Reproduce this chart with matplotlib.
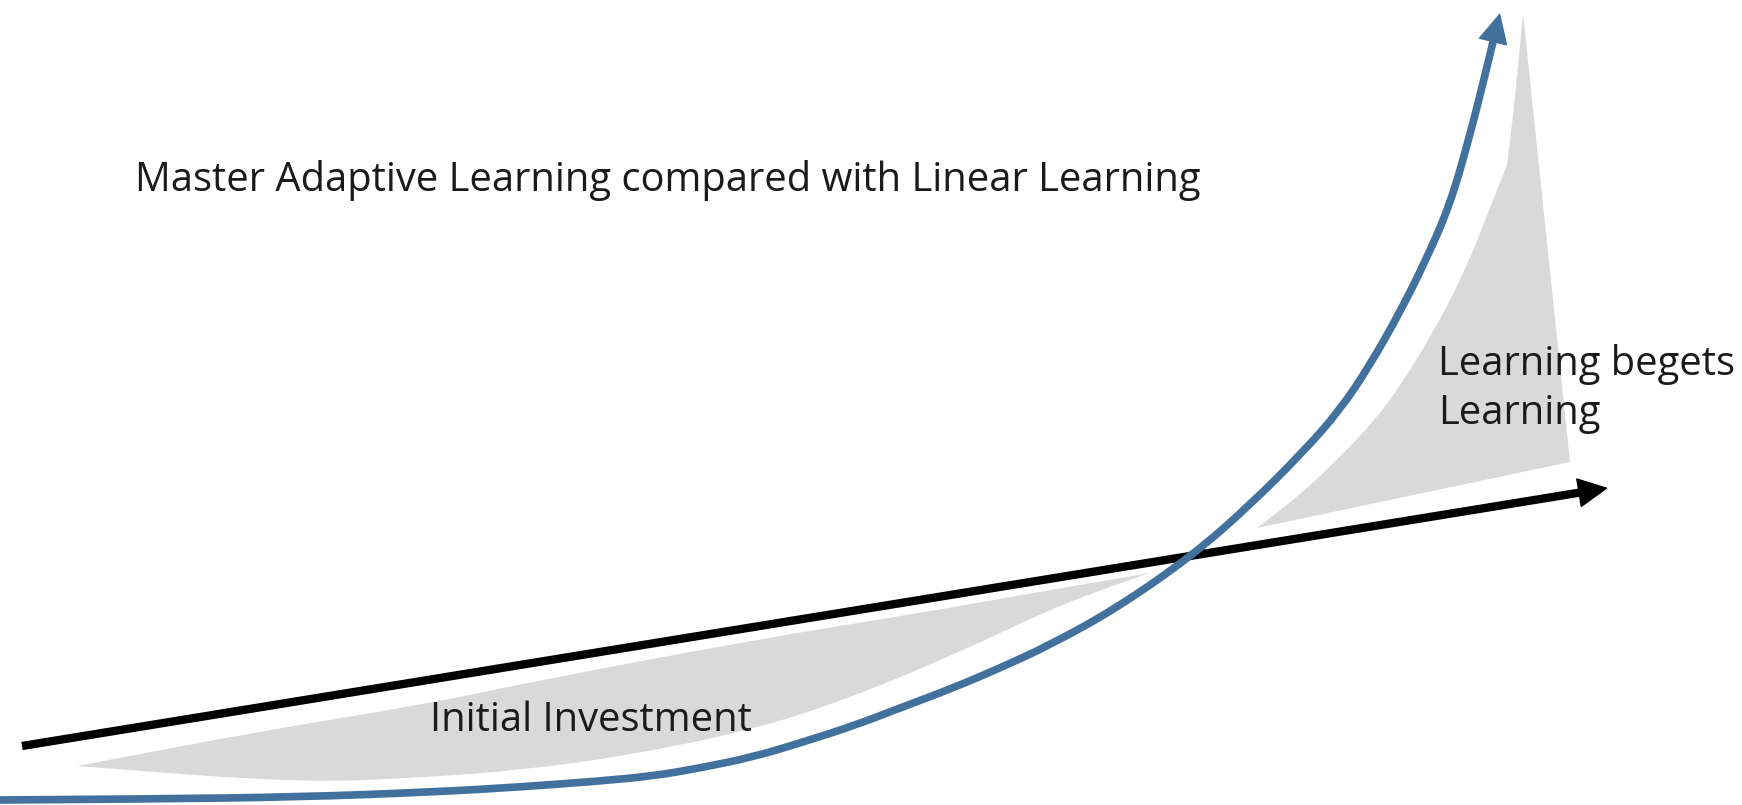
import matplotlib
matplotlib.use('Agg')
from matplotlib import pyplot as plt
from matplotlib.patches import PathPatch
from matplotlib.path import Path

# canvas is laid out in image pixels (x right, y down)
W, H = 1742, 805

# linear learning: straight black arrow
linear_x = [22, 1608]
linear_y = [746, 488]

# master adaptive learning: blue curve, last point is the arrow tip
adaptive_x = [0, 150, 300, 433, 520, 600, 653, 700, 753, 800, 853, 900, 953,
              1000, 1050, 1117, 1193, 1250, 1303, 1340, 1370, 1400, 1425,
              1450, 1470, 1485, 1500]
adaptive_y = [800, 799, 797, 792, 787, 781, 776, 768, 757, 743, 726, 708, 688,
              668, 645, 608, 555, 505, 452, 410, 365, 312, 262,
              205, 135, 75, 13]

# grey area under the linear line ("Initial Investment"),
# repeated points are sharp corners
invest_x = [77, 77, 267, 433, 520, 753, 920, 1033, 1150, 1150, 1095, 1040,
            960, 853, 753, 620, 520, 433, 300, 77]
invest_y = [766, 766, 730, 703, 684, 640, 613, 593, 573, 573, 592, 614,
            652, 697, 730, 757, 770, 777, 783, 766]

# grey area above the linear line ("Learning begets Learning")
gain_x = [1257, 1257, 1300, 1340, 1375, 1400, 1433, 1467, 1493, 1507, 1507,
          1515, 1523, 1523, 1570, 1570, 1257]
gain_y = [528, 528, 495, 457, 420, 386, 333, 267, 200, 165, 165,
          100, 13, 13, 462, 462, 528]

title = 'Master Adaptive Learning compared with Linear Learning'
label_invest = 'Initial Investment'
label_gain = 'Learning begets\nLearning'

blue = '#41719c'
grey = '#d9d9d9'
ink = '#1a1a1a'


def smooth(xs, ys):
    # quadratic curve through segment midpoints, points act as controls
    pts = list(zip(xs, ys))
    verts = [pts[0]]
    codes = [Path.MOVETO]
    for i in range(1, len(pts) - 1):
        mx = (pts[i][0] + pts[i + 1][0]) / 2
        my = (pts[i][1] + pts[i + 1][1]) / 2
        verts += [pts[i], (mx, my)]
        codes += [Path.CURVE3, Path.CURVE3]
    verts.append(pts[-1])
    codes.append(Path.LINETO)
    return Path(verts, codes)


fig = plt.figure(figsize=(W / 100, H / 100), dpi=100)
ax = fig.add_axes([0, 0, 1, 1])
ax.set_xlim(0, W)
ax.set_ylim(H, 0)
ax.axis('off')

ax.add_patch(PathPatch(smooth(invest_x, invest_y), facecolor=grey,
                       edgecolor='none', zorder=1))
ax.add_patch(PathPatch(smooth(gain_x, gain_y), facecolor=grey,
                       edgecolor='none', zorder=1))

head = dict(arrowstyle='-|>,head_length=1.0,head_width=0.5',
            mutation_scale=20, lw=1, shrinkA=0, shrinkB=0)

# black arrow: shaft stops at the head base, head drawn by annotate
k = 0.985
ax.plot([linear_x[0], linear_x[0] + k * (linear_x[1] - linear_x[0])],
        [linear_y[0], linear_y[0] + k * (linear_y[1] - linear_y[0])],
        color='black', lw=6, solid_capstyle='butt', zorder=2)
ax.annotate('', xy=(linear_x[1], linear_y[1]),
            xytext=(linear_x[0] + 0.96 * (linear_x[1] - linear_x[0]),
                    linear_y[0] + 0.96 * (linear_y[1] - linear_y[0])),
            arrowprops=dict(color='black', **head), zorder=2)

# blue curve, ends at the base of its head
bx = adaptive_x[:-1] + [adaptive_x[-2] + 0.55 * (adaptive_x[-1] - adaptive_x[-2])]
by = adaptive_y[:-1] + [adaptive_y[-2] + 0.55 * (adaptive_y[-1] - adaptive_y[-2])]
ax.add_patch(PathPatch(smooth(bx, by), facecolor='none', edgecolor=blue,
                       lw=5.5, capstyle='butt', zorder=3))
ax.annotate('', xy=(adaptive_x[-1], adaptive_y[-1]),
            xytext=(adaptive_x[-3], adaptive_y[-3]),
            arrowprops=dict(color=blue, **head), zorder=3)

font = dict(family='Open Sans', fontsize=28.7, color=ink)
ax.text(135, 191, title, va='baseline', ha='left', **font)
ax.text(430, 731, label_invest, va='baseline', ha='left', zorder=4, **font)
ax.text(1438, 424, label_gain, va='baseline', ha='left', zorder=4,
        linespacing=1.28, **font)

plt.savefig('out.png', dpi=100)
